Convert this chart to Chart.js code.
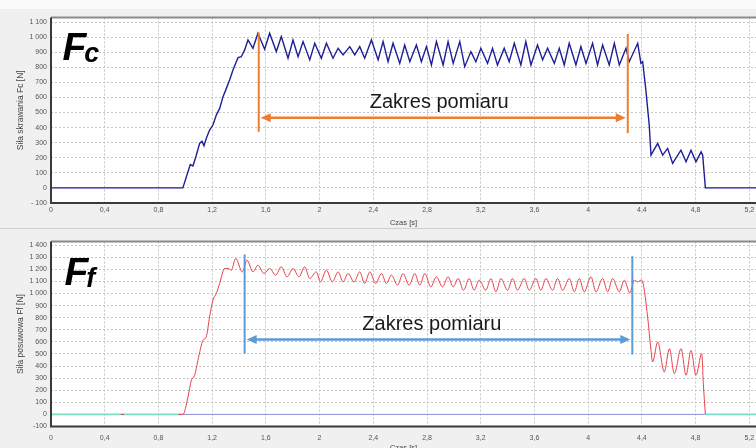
<!DOCTYPE html>
<html>
<head>
<meta charset="utf-8">
<script src="https://cdn.jsdelivr.net/npm/chart.js@4.4.1/dist/chart.umd.min.js"></script>
<title>Fc / Ff</title>
<style>
  html, body { margin: 0; padding: 0; }
  body { width: 756px; height: 448px; overflow: hidden; background: #f0f0f0; position: relative; }
  #strip { position: absolute; left: 0; top: 0; width: 756px; height: 9px; background: #fbfbfb; }
  #sep { position: absolute; left: 0; top: 228px; width: 756px; height: 1px; background: #cfcfcf; }
  .panel { position: absolute; left: 0; width: 756px; height: 228px; }
</style>
</head>
<body>
<div id="strip"></div>
<div class="panel" style="top:0"><canvas id="fc" width="756" height="228"></canvas></div>
<div id="sep"></div>
<div class="panel" style="top:228px"><canvas id="ff" width="756" height="228"></canvas></div>
<script>
// cutting force Fc [N] vs time [s]
var fcTime = [0, 0.982, 1.037, 1.057, 1.082, 1.107, 1.124, 1.139, 1.156, 1.181, 1.206, 1.231, 1.256, 1.281, 1.306, 1.330, 1.355, 1.380, 1.393, 1.417, 1.442, 1.467, 1.504,
  1.541, 1.591, 1.628, 1.678, 1.715, 1.765, 1.802, 1.840, 1.877, 1.927, 1.964, 2.013, 2.051, 2.100, 2.138, 2.175, 2.225, 2.262, 2.299, 2.336,
  2.386, 2.436, 2.473, 2.510, 2.547, 2.597, 2.634, 2.672, 2.721, 2.758, 2.796, 2.833, 2.870, 2.920, 2.957, 2.995, 3.044, 3.081,
  3.127, 3.164, 3.201, 3.251, 3.288, 3.325, 3.375, 3.412, 3.450, 3.499, 3.536, 3.574, 3.623, 3.661, 3.698, 3.748, 3.785, 3.822, 3.859, 3.909,
  3.946, 3.984, 4.033, 4.070, 4.108, 4.157, 4.195, 4.232, 4.282, 4.306, 4.369, 4.393, 4.406, 4.431, 4.455, 4.468,
  4.518, 4.555, 4.592, 4.629, 4.691, 4.729, 4.766, 4.803, 4.841, 4.853, 4.873, 5.25];
var fcForce = [0, 0, 155, 146, 217, 295, 310, 279, 328, 384, 417, 483, 527, 605, 660, 716, 782, 837, 864, 870, 915, 981, 926,
  1026, 920, 1026, 904, 1003, 860, 981, 870, 970, 849, 959, 860, 959, 860, 926, 882, 937, 882, 937, 860,
  981, 849, 970, 837, 959, 826, 948, 837, 948, 837, 937, 815, 970, 815, 970, 826, 970, 804,
  904, 837, 926, 826, 926, 815, 926, 837, 959, 815, 970, 815, 948, 849, 926, 826, 926, 815, 959, 815,
  937, 826, 959, 815, 948, 815, 959, 815, 926, 837, 959, 826, 837, 638, 416, 217,
  295, 217, 262, 162, 250, 173, 250, 173, 239, 217, 0, 0];

// feed force Ff [N] vs time [s] (null = gap)
var ffTime = [0.52, 0.545, 0.6, 0.95, 0.982, 1.020, 1.045, 1.070, 1.094, 1.132, 1.156, 1.181, 1.206, 1.231, 1.256, 1.293, 1.318, 1.343, 1.375, 1.425,
  1.459, 1.504, 1.541, 1.586, 1.628, 1.673, 1.715, 1.758, 1.802, 1.847, 1.889, 1.927, 1.976, 2.006, 2.051, 2.095, 2.138, 2.175, 2.212, 2.257,
  2.299, 2.336, 2.374, 2.418, 2.461, 2.498, 2.535, 2.580, 2.622, 2.667, 2.709, 2.746, 2.784, 2.828, 2.870, 2.915, 2.957, 2.995, 3.032, 3.072,
  3.114, 3.151, 3.189, 3.238, 3.276, 3.313, 3.350, 3.400, 3.437, 3.474, 3.524, 3.561, 3.611, 3.648, 3.686, 3.735, 3.772, 3.810, 3.859, 3.897,
  3.934, 3.971, 4.021, 4.058, 4.108, 4.145, 4.182, 4.232, 4.269, 4.311, 4.344, 4.369, 4.393, 4.406, 4.443, 4.468, 4.480,
  4.518, 4.567, 4.605, 4.642, 4.692, 4.729, 4.766, 4.803, 4.846, 4.858, 4.873];
var ffForce = [0, 0, null, 0, 0, 143, 282, 323, 447, 613, 641, 807, 945, 1000, 1083, 1207, 1207, 1193, 1290, 1179,
  1276, 1179, 1234, 1165, 1207, 1152, 1221, 1138, 1207, 1138, 1221, 1124, 1179, 1096, 1193, 1096, 1179, 1096, 1165, 1096,
  1179, 1083, 1179, 1083, 1165, 1083, 1152, 1069, 1165, 1069, 1165, 1069, 1165, 1055, 1138, 1055, 1138, 1055, 1124, 1027,
  1124, 1027, 1110, 1027, 1124, 1014, 1124, 1027, 1124, 1027, 1124, 1027, 1124, 1027, 1124, 1027, 1124, 1027, 1124, 1014,
  1124, 1014, 1138, 1014, 1124, 1014, 1124, 1014, 1110, 1005, 1110, 1096, 1110, 1096, 806, 530, 434,
  599, 351, 544, 337, 544, 323, 530, 323, 503, 250, 0];

// zero traces under the feed force
var tealTime = [0, 0.97, 2.9, 4.873, 5.25];
var tealForce = [0, 0, null, 0, 0];
var violetTime = [0.97, 4.873];
var violetForce = [0, 0];

// tick values
var timeTicks = [0, 0.4, 0.8, 1.2, 1.6, 2, 2.4, 2.8, 3.2, 3.6, 4, 4.4, 4.8, 5.2];
var fcTicks = [-100, 0, 100, 200, 300, 400, 500, 600, 700, 800, 900, 1000, 1100];
var ffTicks = [-100, 0, 100, 200, 300, 400, 500, 600, 700, 800, 900, 1000, 1100, 1200, 1300, 1400];

// measuring range marks
var fcRange = [1.547, 4.295], fcMarkTop = [1030, 1021], fcMarkBottom = [372, 363], fcArrow = 465, fcLabel = [2.891, 528];
var ffRange = [1.442, 4.329], ffMarkTop = [1323, 1309], ffMarkBottom = [503, 495], ffArrow = 619, ffLabel = [2.836, 702];

var X_MAX = 5.25;

Chart.defaults.font.family = "'Liberation Sans', Arial, sans-serif";

function pts(t, v) { return t.map(function (x, i) { return { x: x, y: v[i] }; }); }
function fmtTime(v) { return String(Math.round(v * 10) / 10).replace('.', ','); }
function fmtForce(neg) {
  return function (v) {
    var a = Math.abs(Math.round(v));
    var s = a >= 1000 ? Math.floor(a / 1000) + ' ' + String(a % 1000).padStart(3, '0') : String(a);
    return v < 0 ? neg + s : s;
  };
}
function fixedTicks(list) {
  return function (s) { s.ticks = list.map(function (v) { return { value: v }; }); };
}

var notes = {
  id: 'notes',
  beforeDraw: function (chart) {
    var a = chart.chartArea, c = chart.ctx;
    c.save();
    c.fillStyle = '#ffffff';
    c.fillRect(a.left, a.top, a.right - a.left, a.bottom - a.top);
    c.restore();
  },
  afterDatasetsDraw: function (chart, args, o) {
    var ctx = chart.ctx, a = chart.chartArea, x = chart.scales.x, y = chart.scales.y;
    ctx.save();
    // frame
    ctx.lineWidth = 2;
    ctx.strokeStyle = '#8a8a8a';
    ctx.beginPath(); ctx.moveTo(a.left, a.top); ctx.lineTo(a.right, a.top); ctx.stroke();
    ctx.strokeStyle = '#3a3a3a';
    ctx.beginPath(); ctx.moveTo(a.left, a.top); ctx.lineTo(a.left, a.bottom); ctx.lineTo(a.right, a.bottom); ctx.stroke();

    // vertical marks
    ctx.strokeStyle = o.color; ctx.fillStyle = o.color;
    for (var i = 0; i < 2; i++) {
      var px = x.getPixelForValue(o.range[i]);
      ctx.beginPath();
      ctx.moveTo(px, y.getPixelForValue(o.top[i]));
      ctx.lineTo(px, y.getPixelForValue(o.bottom[i]));
      ctx.stroke();
    }
    // double arrow
    var ay = y.getPixelForValue(o.level);
    var x0 = x.getPixelForValue(o.range[0]) + 2, x1 = x.getPixelForValue(o.range[1]) - 2;
    ctx.lineWidth = 2.5;
    ctx.beginPath(); ctx.moveTo(x0 + 8, ay); ctx.lineTo(x1 - 8, ay); ctx.stroke();
    [[x0, 1], [x1, -1]].forEach(function (h) {
      ctx.beginPath();
      ctx.moveTo(h[0], ay);
      ctx.lineTo(h[0] + h[1] * 10, ay - 4.5);
      ctx.lineTo(h[0] + h[1] * 10, ay + 4.5);
      ctx.closePath();
      ctx.fill();
    });
    // label
    ctx.fillStyle = '#1a1a1a';
    ctx.font = "20px 'Liberation Sans', Arial, sans-serif";
    ctx.textAlign = 'center';
    ctx.textBaseline = 'alphabetic';
    ctx.fillText('Zakres pomiaru', x.getPixelForValue(o.label[0]), y.getPixelForValue(o.label[1]));

    // symbol of the force
    ctx.fillStyle = '#000000';
    ctx.textAlign = 'left';
    ctx.font = "italic bold 39px 'Liberation Sans', Arial, sans-serif";
    var sx = x.getPixelForValue(o.symbol[0]), sy = y.getPixelForValue(o.symbol[1]);
    ctx.fillText('F', sx, sy);
    var w = ctx.measureText('F').width;
    ctx.font = "italic bold 27px 'Liberation Sans', Arial, sans-serif";
    ctx.fillText(o.sub, sx + w - 2, sy + 2);
    ctx.restore();
  }
};

function scales(o) {
  return {
    x: {
      type: 'linear', min: 0, max: X_MAX,
      afterFit: function (s) { s.height = o.xHeight; s.paddingLeft = 0; s.paddingRight = 0; },
      afterBuildTicks: fixedTicks(timeTicks),
      ticks: { autoSkip: false, maxRotation: 0, padding: o.xPad, color: '#555555', font: { size: 7 }, callback: fmtTime },
      grid: { color: '#c4c4c4', drawTicks: false },
      border: { display: false, dash: [2, 2] },
      title: { display: true, text: 'Czas [s]', color: '#444444', font: { size: 7.5 }, padding: { top: 0, bottom: o.titlePad } }
    },
    y: {
      min: -100, max: o.yMax,
      afterFit: function (s) { s.width = 51; },
      afterBuildTicks: fixedTicks(o.yTicks),
      ticks: { autoSkip: false, padding: 4, color: '#555555', font: { size: 7 }, callback: fmtForce(o.neg) },
      grid: { color: '#c4c4c4', drawTicks: false },
      border: { display: false, dash: [2, 2] },
      title: { display: true, text: o.yTitle, color: '#444444', font: { size: 8.5 }, padding: { top: 16, bottom: 0 } }
    }
  };
}

var common = {
  responsive: false,
  animation: false,
  events: [],
  plugins: { legend: { display: false }, tooltip: { enabled: false } },
  elements: { point: { radius: 0 } }
};

new Chart(document.getElementById('fc'), {
  type: 'line',
  data: {
    datasets: [{
      data: pts(fcTime, fcForce), borderColor: '#1e1e96', borderWidth: 1.4, tension: 0
    }]
  },
  options: Object.assign({}, common, {
    layout: { padding: { top: 17.5, left: 0, right: 0, bottom: 0 } },
    scales: scales({ yMax: 1130, yTicks: fcTicks, xHeight: 25, xPad: 3, titlePad: 0.5, neg: '- ', yTitle: 'Siła skrawania Fc [N]' }),
    plugins: Object.assign({}, common.plugins, {
      notes: { color: '#ed7d31', range: fcRange, top: fcMarkTop, bottom: fcMarkBottom, level: fcArrow, label: fcLabel, symbol: [0.086, 848], sub: 'c' }
    })
  }),
  plugins: [notes]
});

new Chart(document.getElementById('ff'), {
  type: 'line',
  data: {
    datasets: [
      { data: pts(ffTime, ffForce), borderColor: '#e8434b', borderWidth: 1, cubicInterpolationMode: 'monotone' },
      { data: pts(tealTime, tealForce), borderColor: '#7ddcc6', borderWidth: 1.6 },
      { data: pts(violetTime, violetForce), borderColor: '#9090e0', borderWidth: 1 }
    ]
  },
  options: Object.assign({}, common, {
    layout: { padding: { top: 13.5, left: 0, right: 0, bottom: 0 } },
    scales: scales({ yMax: 1430, yTicks: ffTicks, xHeight: 29.5, xPad: 7, titlePad: 3.5, neg: '-', yTitle: 'Siła posuwowa Ff [N]' }),
    plugins: Object.assign({}, common.plugins, {
      notes: { color: '#5b9bd5', range: ffRange, top: ffMarkTop, bottom: ffMarkBottom, level: ffArrow, label: ffLabel, symbol: [0.1, 1069], sub: 'f' }
    })
  }),
  plugins: [notes]
});
</script>
</body>
</html>
